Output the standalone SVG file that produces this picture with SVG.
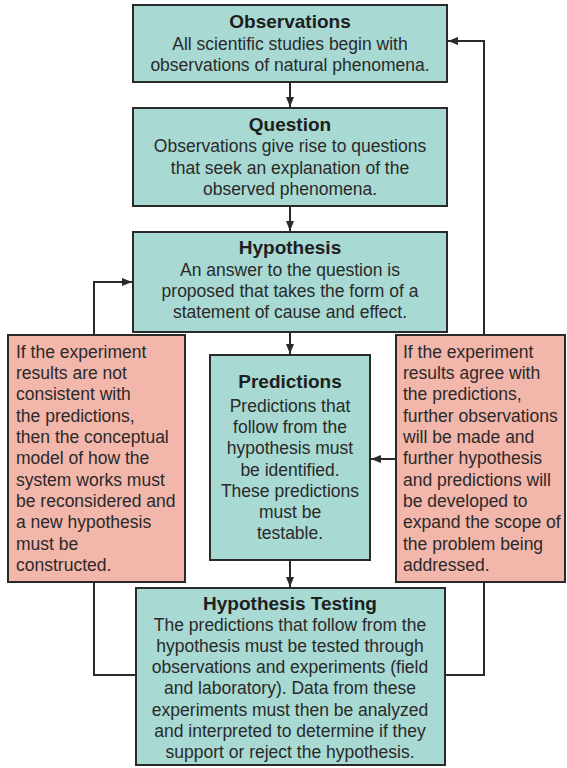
<svg xmlns="http://www.w3.org/2000/svg" width="567" height="768" viewBox="0 0 567 768">
<defs>
<style>
.teal{fill:#a8d9d3;stroke:#2a2a2a;stroke-width:2}
.pink{fill:#f3b6aa;stroke:#2a2a2a;stroke-width:2}
.t{font-family:"Liberation Sans",Arial,sans-serif;font-size:19px;font-weight:bold;fill:#1e1e1e;text-anchor:middle}
.b{font-family:"Liberation Sans",Arial,sans-serif;font-size:17.5px;fill:#2a2a2a;text-anchor:middle}
.l{font-family:"Liberation Sans",Arial,sans-serif;font-size:17.5px;fill:#2a2a2a}
.c{fill:none;stroke:#2a2a2a;stroke-width:2}
</style>
<marker id="ah" markerUnits="userSpaceOnUse" markerWidth="10" markerHeight="8" refX="10" refY="4" orient="auto">
<path d="M0,0 L10,4 L0,8 Z" fill="#2a2a2a"/>
</marker>
</defs>
<rect width="567" height="768" fill="#ffffff"/>
<g id="connectors">
<path class="c" d="M290,83 V107" marker-end="url(#ah)"/>
<path class="c" d="M290,206 V231" marker-end="url(#ah)"/>
<path class="c" d="M290,332 V354" marker-end="url(#ah)"/>
<path class="c" d="M290,560 V587" marker-end="url(#ah)"/>
<path class="c" d="M136,675 H94 V282 H132" marker-end="url(#ah)"/>
<path class="c" d="M445,675 H484 V41 H448" marker-end="url(#ah)"/>
<path class="c" d="M396,459 H371" marker-end="url(#ah)"/>
</g>
<g id="observations">
<rect class="teal" x="133" y="5" width="314" height="77"/>
<text class="t" x="290" y="28">Observations</text>
<text class="b" x="290" y="50">All scientific studies begin with</text>
<text class="b" x="290" y="71">observations of natural phenomena.</text>
</g>
<g id="question">
<rect class="teal" x="133" y="108" width="314" height="98"/>
<text class="t" x="290" y="131">Question</text>
<text class="b" x="290" y="152">Observations give rise to questions</text>
<text class="b" x="290" y="174">that seek an explanation of the</text>
<text class="b" x="290" y="195">observed phenomena.</text>
</g>
<g id="hypothesis">
<rect class="teal" x="133" y="232" width="314" height="100"/>
<text class="t" x="290" y="254">Hypothesis</text>
<text class="b" x="290" y="276">An answer to the question is</text>
<text class="b" x="290" y="297">proposed that takes the form of a</text>
<text class="b" x="290" y="318">statement of cause and effect.</text>
</g>
<g id="predictions">
<rect class="teal" x="210" y="355" width="160" height="205"/>
<text class="t" x="290" y="388">Predictions</text>
<text class="b" x="290" y="412">Predictions that</text>
<text class="b" x="290" y="433">follow from the</text>
<text class="b" x="290" y="454">hypothesis must</text>
<text class="b" x="290" y="476">be identified.</text>
<text class="b" x="290" y="497">These predictions</text>
<text class="b" x="290" y="518">must be</text>
<text class="b" x="290" y="539">testable.</text>
</g>
<g id="not-consistent">
<rect class="pink" x="8" y="335" width="177" height="247"/>
<text class="l" x="16" y="358">If the experiment</text>
<text class="l" x="16" y="379">results are not</text>
<text class="l" x="16" y="400">consistent with</text>
<text class="l" x="16" y="422">the predictions,</text>
<text class="l" x="16" y="443">then the conceptual</text>
<text class="l" x="16" y="464">model of how the</text>
<text class="l" x="16" y="486">system works must</text>
<text class="l" x="16" y="507">be reconsidered and</text>
<text class="l" x="16" y="528">a new hypothesis</text>
<text class="l" x="16" y="550">must be</text>
<text class="l" x="16" y="571">constructed.</text>
</g>
<g id="agree">
<rect class="pink" x="396" y="335" width="169" height="247"/>
<text class="l" x="403" y="358">If the experiment</text>
<text class="l" x="403" y="379">results agree with</text>
<text class="l" x="403" y="400">the predictions,</text>
<text class="l" x="403" y="422">further observations</text>
<text class="l" x="403" y="443">will be made and</text>
<text class="l" x="403" y="464">further hypothesis</text>
<text class="l" x="403" y="486">and predictions will</text>
<text class="l" x="403" y="507">be developed to</text>
<text class="l" x="403" y="528">expand the scope of</text>
<text class="l" x="403" y="550">the problem being</text>
<text class="l" x="403" y="571">addressed.</text>
</g>
<g id="hypothesis-testing">
<rect class="teal" x="136" y="588" width="309" height="177"/>
<text class="t" x="290" y="610">Hypothesis Testing</text>
<text class="b" x="290" y="631">The predictions that follow from the</text>
<text class="b" x="290" y="652">hypothesis must be tested through</text>
<text class="b" x="290" y="673">observations and experiments (field</text>
<text class="b" x="290" y="694">and laboratory). Data from these</text>
<text class="b" x="290" y="716">experiments must then be analyzed</text>
<text class="b" x="290" y="737">and interpreted to determine if they</text>
<text class="b" x="290" y="758">support or reject the hypothesis.</text>
</g>
</svg>
